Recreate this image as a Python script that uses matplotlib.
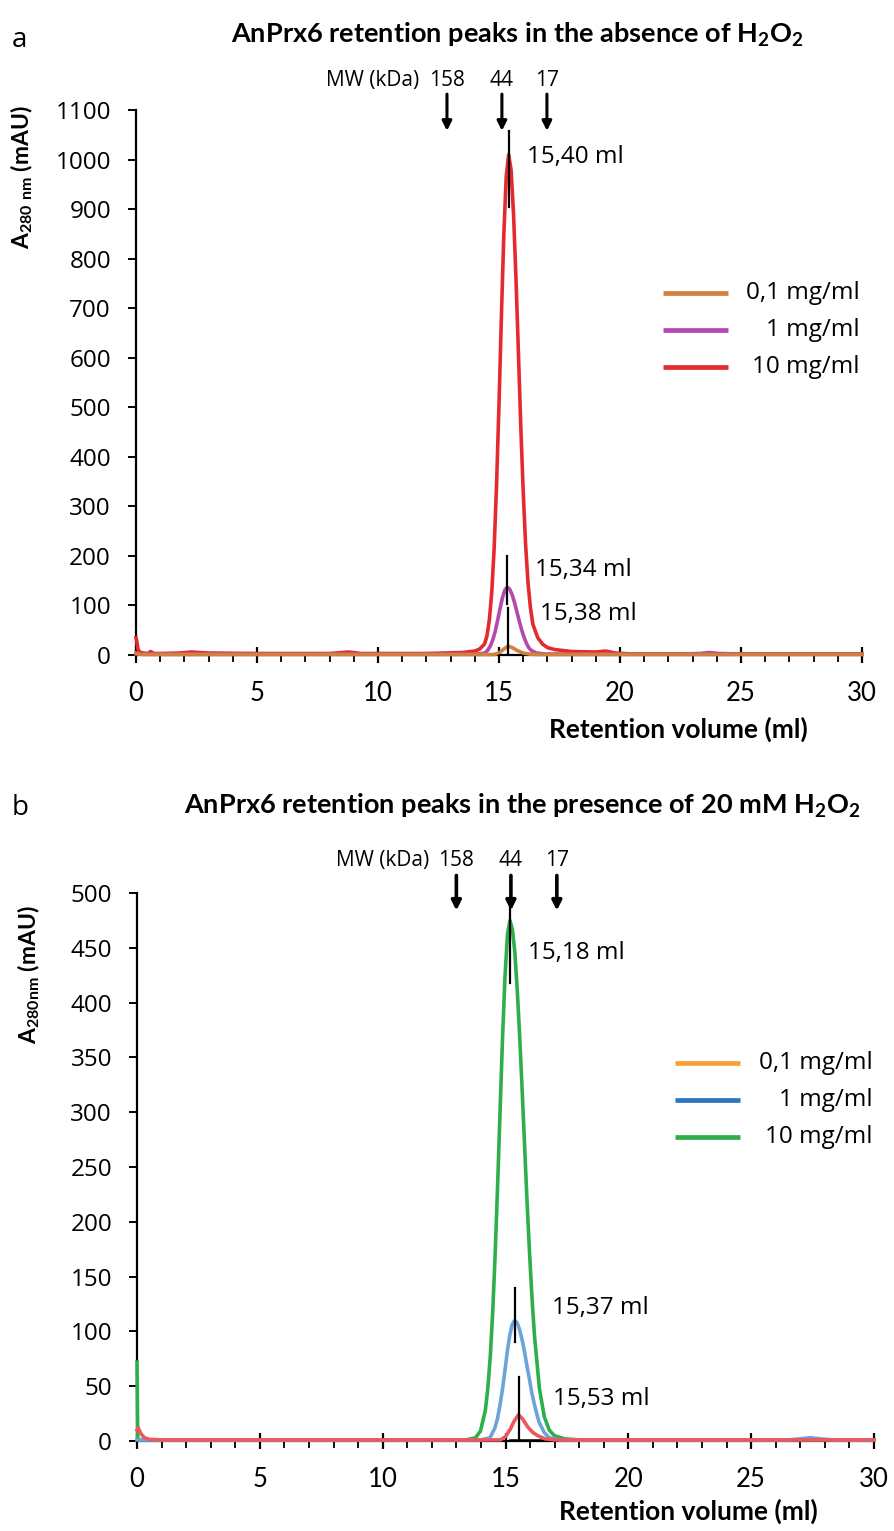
import matplotlib
matplotlib.use("Agg")
import matplotlib.pyplot as plt
from matplotlib.ticker import MultipleLocator

plt.rcParams['font.family'] = ['Open Sans', 'DejaVu Sans']
plt.rcParams['mathtext.fontset'] = 'custom'
plt.rcParams['mathtext.rm'] = 'Lato'
plt.rcParams['mathtext.bf'] = 'Lato:bold'

# --- Panel a: no H2O2 ---
vol_a_10 = [0, 0.03, 0.08, 0.15, 0.3, 0.5, 0.6, 0.75, 1.0, 1.8,
            2.3, 2.6, 3.0, 5.0, 8.0, 8.8, 9.3, 12.0, 13.5, 14.0,
            14.2, 14.4, 14.5, 14.6, 14.7, 14.8, 14.9, 15.0, 15.1, 15.2,
            15.3, 15.4, 15.5, 15.6, 15.7, 15.8, 15.9, 16.0, 16.1, 16.2,
            16.3, 16.4, 16.6, 16.8, 17.0, 17.3, 18.0, 19.0, 19.4, 19.8,
            20.5, 25.0, 30.0]
abs_a_10 = [35, 28, 12, 6, 4, 3, 7, 3, 3, 4,
            6, 5, 4, 3, 3, 6, 3, 3, 5, 8,
            12, 22, 38, 70, 126, 216, 345, 506, 685, 850,
            967, 1010, 979, 891, 762, 613, 462, 330, 222, 145,
            95, 62, 35, 22, 15, 11, 7, 6, 8, 4,
            2, 2, 2]
vol_a_1 = [0, 2, 5, 10, 13.5, 14.0, 14.34, 14.44, 14.54, 14.64,
           14.74, 14.84, 14.94, 15.04, 15.14, 15.24, 15.34, 15.44, 15.54, 15.64,
           15.74, 15.84, 15.94, 16.04, 16.14, 16.24, 16.34, 16.54, 16.9, 18.0,
           22.5, 23.3, 23.7, 24.1, 25.0, 30.0]
abs_a_1 = [2, 2, 2, 2, 2, 2, 3, 5, 10, 18,
           30, 47, 69, 93, 115, 131, 137, 133, 122, 106,
           87, 68, 50, 35, 23, 14, 9, 4, 2, 2,
           2, 3, 5, 3, 2, 2]
vol_a_01 = [0, 0.1, 0.3, 1.0, 5.0, 10.0, 14.8, 15.0, 15.2, 15.38,
            15.55, 15.75, 16.0, 16.3, 16.6, 20.0, 30.0]
abs_a_01 = [4, 2, 1, 1, 1, 1, 1, 4, 12, 18,
            15, 9, 4, 1.5, 1, 1, 1]

# --- Panel b: 20 mM H2O2 ---
vol_b_10 = [0, 0.03, 0.1, 5, 10, 13.0, 13.4, 13.78, 13.98, 14.18,
            14.28, 14.38, 14.48, 14.58, 14.68, 14.78, 14.88, 14.98, 15.08, 15.18,
            15.28, 15.38, 15.48, 15.58, 15.68, 15.78, 15.88, 15.98, 16.08, 16.18,
            16.38, 16.58, 16.78, 16.98, 17.4, 18.0, 20, 30]
abs_b_10 = [72, 2, 1, 1, 1, 1, 1, 3, 9, 28,
            48, 77, 118, 171, 234, 302, 368, 424, 462, 475,
            467, 446, 411, 368, 319, 268, 217, 171, 130, 96,
            48, 22, 10, 5, 2, 1, 1, 1]
vol_b_1 = [0, 5, 10, 14.0, 14.37, 14.57, 14.67, 14.77, 14.87, 14.97,
           15.07, 15.17, 15.27, 15.37, 15.47, 15.57, 15.67, 15.77, 15.87, 15.97,
           16.07, 16.17, 16.27, 16.37, 16.57, 16.77, 17.2, 18, 26.5, 27.0,
           27.4, 27.8, 28.3, 30]
abs_b_1 = [1, 1, 1, 1, 3, 12, 20, 32, 46, 63,
           81, 96, 106, 110, 108, 102, 93, 82, 69, 57,
           44, 34, 25, 17, 8, 3, 1, 1, 1, 2,
           3, 2, 1, 1]
vol_b_01 = [0, 0.05, 0.15, 0.3, 0.5, 1.0, 5, 10, 14.8, 15.0,
            15.2, 15.35, 15.53, 15.7, 15.9, 16.1, 16.3, 16.6, 17.0, 20, 30]
abs_b_01 = [10, 12, 7, 3, 1.5, 1, 1, 1, 1, 4,
            11, 18, 24, 20, 13, 8, 5, 2, 1, 1, 1]

conc_labels = ['0,1 mg/ml', '1 mg/ml', '10 mg/ml']

# apex volumes and the extent of the black apex marks
peaks_a = [15.38, 15.34, 15.40]
mark_lo_a = [0, 102, 905]
mark_hi_a = [95, 200, 1058]
peaks_b = [15.53, 15.37, 15.18]
mark_lo_b = [0, 90, 418]
mark_hi_b = [58, 140, 488]

# MW standards
mw_labels = ['158', '44', '17']
mw_vol_a = [12.85, 15.12, 16.98]
mw_vol_b = [13.0, 15.22, 17.09]

W, H = 894, 1531
fig = plt.figure(figsize=(W / 100, H / 100), dpi=100)


def px_axes(l, r, b, t):
    return fig.add_axes([l / W, 1 - b / H, (r - l) / W, (b - t) / H])


def style_axes(ax, ymax, ystep):
    ax.set_xlim(0, 30)
    ax.set_ylim(0, ymax)
    for s in ('top', 'right'):
        ax.spines[s].set_visible(False)
    for s in ('left', 'bottom'):
        ax.spines[s].set_linewidth(1.6)
    ax.xaxis.set_major_locator(MultipleLocator(5))
    ax.xaxis.set_minor_locator(MultipleLocator(1))
    ax.yaxis.set_major_locator(MultipleLocator(ystep))
    ax.tick_params(axis='x', which='major', direction='inout', length=12,
                   width=1.6, pad=13, labelsize=18.5)
    ax.tick_params(axis='x', which='minor', direction='out', length=5, width=1.3)
    ax.tick_params(axis='y', which='major', direction='out', length=6,
                   width=1.4, pad=12, labelsize=17.5)
    for t in ax.get_xticklabels():
        t.set_family('Lato')


def draw_legend(ax, colors, x0, x1, xt, ys):
    for c, lab, y in zip(colors, conc_labels, ys):
        ax.plot([x0, x1], [y, y], color=c, lw=3.4, transform=ax.transAxes,
                clip_on=False, solid_capstyle='butt')
        ax.text(xt, y, lab, transform=ax.transAxes, ha='right', va='center',
                fontsize=17.5)


def vol_text(v):
    return f"{v:.2f}".replace('.', ',') + " ml"


LW = 2.6

# ---------------- panel a ----------------
ax1 = px_axes(136, 862, 655, 110)
style_axes(ax1, 1100, 100)
cols_a = ['#D2803A', '#B548AE', '#E52A2F']
ax1.plot(vol_a_10, abs_a_10, color=cols_a[2], lw=LW, clip_on=False, zorder=3)
ax1.plot(vol_a_1, abs_a_1, color=cols_a[1], lw=LW, clip_on=False, zorder=3.1)
ax1.plot(vol_a_01, abs_a_01, color=cols_a[0], lw=LW, clip_on=False, zorder=3.2)
ax1.plot([15.0, 15.8], [1, 1], color='k', lw=1.8, zorder=3.3)
for v, lo, hi in zip(peaks_a, mark_lo_a, mark_hi_a):
    ax1.plot([v, v], [lo, hi], color='k', lw=1.6, zorder=4)
ax1.text(16.15, 1006, vol_text(peaks_a[2]), fontsize=17.5, va='center')
ax1.text(16.5, 172, vol_text(peaks_a[1]), fontsize=17.5, va='center')
ax1.text(16.7, 83, vol_text(peaks_a[0]), fontsize=17.5, va='center')

for v, lab in zip(mw_vol_a, mw_labels):
    ax1.annotate('', xy=(v, 1058), xytext=(v, 1132), annotation_clip=False,
                 arrowprops=dict(arrowstyle='-|>', color='k', lw=2.2,
                                 mutation_scale=14, shrinkA=0, shrinkB=0))
    ax1.text(v, 1160, lab, ha='center', va='center', fontsize=15)
ax1.text(11.7, 1160, 'MW (kDa)', ha='right', va='center', fontsize=15)

draw_legend(ax1, cols_a, 0.726, 0.815, 0.997, [0.664, 0.596, 0.528])
ax1.set_xlabel('Retention volume (ml)', family='Lato', fontweight='bold',
               fontsize=19)
ax1.xaxis.set_label_coords(0.747, -0.113)
ax1.set_ylabel(r'A$_{\mathbf{280\ nm}}$ (mAU)', family='Lato',
               fontweight='bold', fontsize=16.5)
ax1.yaxis.set_label_coords(-0.139, 0.877)

fig.text(12 / W, 1 - 40 / H, 'a', fontsize=20, va='center')
fig.text(517 / W, 1 - 35 / H,
         r'AnPrx6 retention peaks in the absence of H$_{\mathbf{2}}$O$_{\mathbf{2}}$',
         ha='center', va='center', family='Lato', fontweight='bold', fontsize=19.5)

# ---------------- panel b ----------------
ax2 = px_axes(137, 874, 1441, 893)
style_axes(ax2, 500, 50)
cols_b = ['#EB5860', '#6BA4DA', '#2DB04B']
ax2.plot(vol_b_10, abs_b_10, color=cols_b[2], lw=LW, clip_on=False, zorder=3)
ax2.plot(vol_b_1, abs_b_1, color=cols_b[1], lw=LW, clip_on=False, zorder=3.1)
ax2.plot(vol_b_01, abs_b_01, color=cols_b[0], lw=LW, clip_on=False, zorder=3.2)
ax2.plot([15.2, 16.6], [0.5, 0.5], color='k', lw=1.8, zorder=3.05)
for v, lo, hi in zip(peaks_b, mark_lo_b, mark_hi_b):
    ax2.plot([v, v], [lo, hi], color='k', lw=1.6, zorder=4)
ax2.text(15.9, 445, vol_text(peaks_b[2]), fontsize=17.5, va='center')
ax2.text(16.9, 121, vol_text(peaks_b[1]), fontsize=17.5, va='center')
ax2.text(16.95, 38, vol_text(peaks_b[0]), fontsize=17.5, va='center')

for v, lab in zip(mw_vol_b, mw_labels):
    ax2.annotate('', xy=(v, 484), xytext=(v, 516), annotation_clip=False,
                 arrowprops=dict(arrowstyle='-|>', color='k', lw=2.6,
                                 mutation_scale=14, shrinkA=0, shrinkB=0))
    ax2.text(v, 530, lab, ha='center', va='center', fontsize=15)
ax2.text(11.9, 530, 'MW (kDa)', ha='right', va='center', fontsize=15)

legend_cols_b = ['#F7A032', '#2E74C0', '#2DB04B']
draw_legend(ax2, legend_cols_b, 0.730, 0.818, 0.9986, [0.690, 0.622, 0.555])
ax2.set_xlabel('Retention volume (ml)', family='Lato', fontweight='bold',
               fontsize=19)
ax2.xaxis.set_label_coords(0.748, -0.106)
ax2.set_ylabel(r'A$_{\mathbf{280nm}}$ (mAU)', family='Lato',
               fontweight='bold', fontsize=16.5)
ax2.yaxis.set_label_coords(-0.129, 0.85)

fig.text(12 / W, 1 - 808 / H, 'b', fontsize=20, va='center')
fig.text(522 / W, 1 - 806 / H,
         r'AnPrx6 retention peaks in the presence of 20 mM H$_{\mathbf{2}}$O$_{\mathbf{2}}$',
         ha='center', va='center', family='Lato', fontweight='bold', fontsize=19.5)

fig.savefig('out.png', dpi=100, facecolor='white')
